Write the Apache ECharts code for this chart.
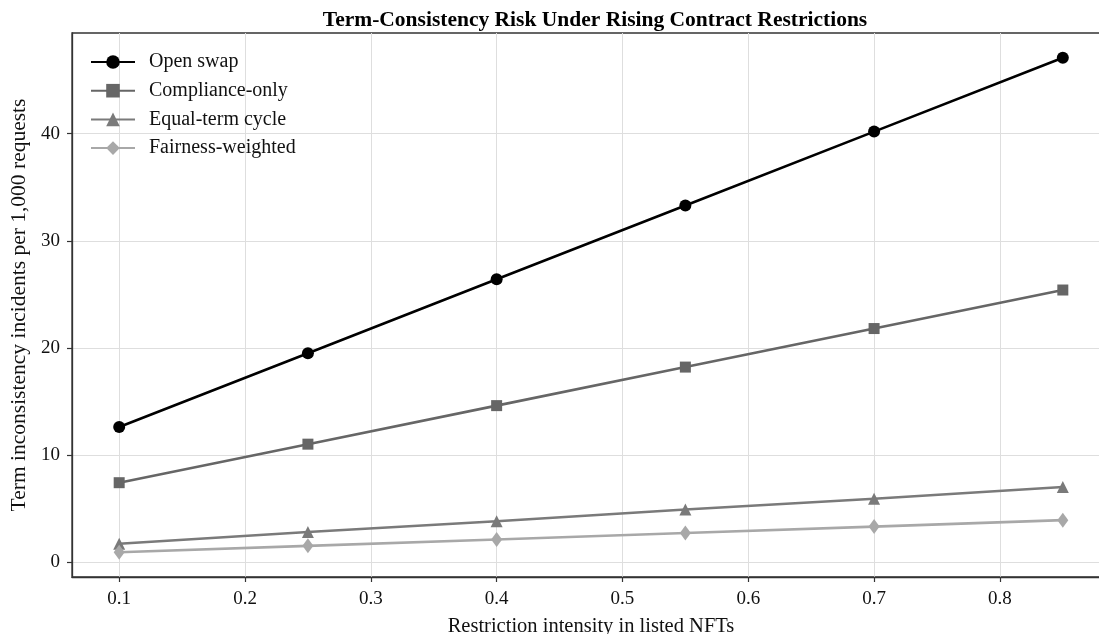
<!DOCTYPE html>
<html><head><meta charset="utf-8">
<script src="https://cdn.jsdelivr.net/npm/echarts@6/dist/echarts.min.js"></script>
<style>html,body{margin:0;padding:0;background:#fff}#c{width:1099px;height:634px}</style>
</head><body><div id="c"></div>
<script>
const xValues = [0.1, 0.25, 0.4, 0.55, 0.7, 0.85];
const openSwap = [12.6, 19.5, 26.4, 33.3, 40.2, 47.1];
const complianceOnly = [7.4, 11.0, 14.6, 18.2, 21.8, 25.4];
const equalTermCycle = [1.7, 2.8, 3.8, 4.9, 5.9, 7.0];
const fairnessWeighted = [0.9, 1.5, 2.1, 2.7, 3.3, 3.9];
const xTicks = [0.1, 0.2, 0.3, 0.4, 0.5, 0.6, 0.7, 0.8];
const yTicks = [0, 10, 20, 30, 40];

const F = 'Liberation Serif, Times New Roman, serif';
function pts(ys){ return xValues.map((x,i)=>[x, ys[i]]); }
function mk(name, ys, color, symbol, size, width){
  return {name, type:'line', data: pts(ys), symbol, symbolSize:size,
    lineStyle:{color, width}, itemStyle:{color}, showSymbol:true, animation:false, z:3};
}
const chart = echarts.init(document.getElementById('c'), null, {renderer:'canvas'});
chart.setOption({
  animation:false,
  backgroundColor:'#fff',
  title:{text:'Term-Consistency Risk Under Rising Contract Restrictions', left:590, top:4, textAlign:'center',
    textStyle:{fontFamily:F, fontSize:21.5, fontWeight:'bold', color:'#000'}},
  grid:{left:72, right:-11, top:33, bottom:57, outerBoundsMode:'none', containLabel:false,
    show:true, borderColor:'#333', borderWidth:1.3, backgroundColor:'transparent'},
  legend:{orient:'vertical', left:85, top:47, itemWidth:44, itemHeight:17, itemGap:8.7,
    textStyle:{fontFamily:F, fontSize:20, color:'#111', padding:[0,0,0,9]},
    data:['Open swap','Compliance-only','Equal-term cycle','Fairness-weighted']},
  xAxis:{type:'value', min:0.0625, max:0.8875,
    name:'Restriction intensity in listed NFTs', nameLocation:'middle', nameGap:39,
    nameTextStyle:{fontFamily:F, fontSize:20.5, color:'#111'},
    axisLine:{show:true, onZero:false, lineStyle:{color:'#333', width:1.3}},
    axisTick:{show:true, length:5, customValues:xTicks, lineStyle:{color:'#333', width:1.2}},
    axisLabel:{customValues:xTicks, margin:13, fontFamily:F, fontSize:19, color:'#111', formatter:v=>v.toFixed(1)},
    splitLine:{show:true, lineStyle:{color:'#dedede', width:1}}},
  yAxis:{type:'value', min:-1.41, max:49.41,
    name:'Term inconsistency incidents per 1,000 requests', nameLocation:'middle', nameGap:40,
    nameTextStyle:{fontFamily:F, fontSize:21.5, color:'#111'},
    axisLine:{show:true, onZero:false, lineStyle:{color:'#333', width:1.3}},
    axisTick:{show:true, length:5, customValues:yTicks, lineStyle:{color:'#333', width:1.2}},
    axisLabel:{customValues:yTicks, margin:12, fontFamily:F, fontSize:19, color:'#111'},
    splitLine:{show:true, lineStyle:{color:'#dedede', width:1}}},
  series:[
    mk('Open swap', openSwap, '#000000', 'circle', 12, 2.6),
    mk('Compliance-only', complianceOnly, '#666666', 'rect', 11, 2.6),
    mk('Equal-term cycle', equalTermCycle, '#7a7a7a', 'triangle', 12, 2.6),
    mk('Fairness-weighted', fairnessWeighted, '#a8a8a8', 'diamond', [11,15], 2.6)
  ]
});
</script></body></html>
